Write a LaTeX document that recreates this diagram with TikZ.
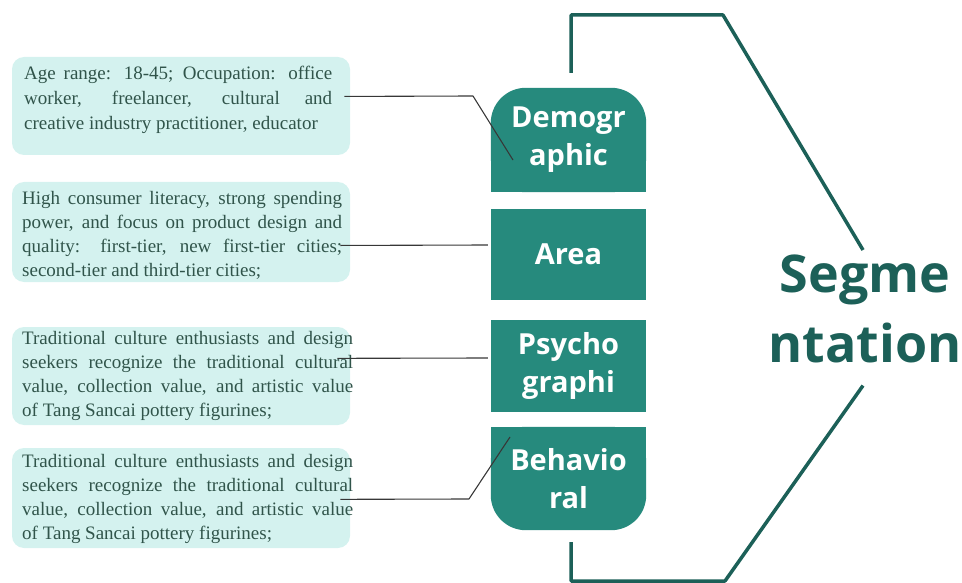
\documentclass[tikz,border=0pt]{standalone}
\usepackage{fontspec}
\setmainfont{Liberation Serif}
\newfontfamily\segfont{Open Sans}
\usetikzlibrary{backgrounds}
\definecolor{descfill}{RGB}{212,242,239}
\definecolor{desctext}{RGB}{48,84,74}
\definecolor{segteal}{RGB}{38,138,125}
\definecolor{segdark}{RGB}{28,96,88}
\definecolor{linkgray}{RGB}{55,55,55}
\begin{document}
\begin{tikzpicture}[x=1pt,y=-1pt,line join=round,
  desc/.style={inner sep=0pt,anchor=north west,align=justify,text=desctext,
    font=\fontsize{19}{24}\selectfont},
  segbox/.style={minimum width=155pt,inner sep=0pt,text=white,align=center,
    font=\segfont\bfseries\fontsize{29}{38}\selectfont},
  link/.style={linkgray,line width=1.1pt},
  frame/.style={segdark,line width=3.5pt}]
 \useasboundingbox (0,0) rectangle (962,583);
 \foreach \t/\b in {57/155,182/282,327/425,448/548}
   \fill[descfill,rounded corners=12pt] (12,\t) rectangle (350,\b);
 \node[desc,text width=308pt,font=\fontsize{19}{25}\selectfont] (agebox) at (24,66)
   {Age range: 18-45; Occupation: office\linebreak worker, freelancer, cultural and\linebreak creative industry practitioner, educator};
 \node[desc,text width=320pt] (citybox) at (22,191)
   {High consumer literacy, strong spending\linebreak power, and focus on product design and\linebreak quality: first-tier, new first-tier cities;\linebreak second-tier and third-tier cities;};
 \node[desc,text width=331pt] (tradbox) at (22,331)
   {Traditional culture enthusiasts and design\linebreak seekers recognize the traditional cultural\linebreak value, collection value, and artistic value\linebreak of Tang Sancai pottery figurines;};
 \node[desc,text width=331pt] (buybox) at (22,454)
   {Traditional culture enthusiasts and design\linebreak seekers recognize the traditional cultural\linebreak value, collection value, and artistic value\linebreak of Tang Sancai pottery figurines;};
 \node[segbox,minimum height=104pt] (demo) at (568.5,140) {Demogr\\aphic};
 \node[segbox,minimum height=91pt] (area) at (568.5,254.5) {Area};
 \node[segbox,minimum height=92pt] (psycho) at (568.5,366) {Psycho\\graphi};
 \node[segbox,minimum height=103pt] (behav) at (568.5,478.5) {Behavio\\ral};
 \begin{scope}[on background layer]
  \fill[segteal,rounded corners=35pt] (demo.south west) rectangle (demo.north east);
  \fill[segteal] (demo.south west) rectangle (demo.east);
  \fill[segteal] (area.south west) rectangle (area.north east);
  \fill[segteal] (psycho.south west) rectangle (psycho.north east);
  \fill[segteal,rounded corners=35pt] (behav.south west) rectangle (behav.north east);
  \fill[segteal] (behav.west) rectangle (behav.north east);
 \end{scope}
 \node[text=segdark,align=center,inner sep=0pt,anchor=north,
   font=\segfont\bfseries\fontsize{52}{70}\selectfont] (segm) at (865,255) {Segme\\ntation};
 \coordinate (tl) at (571,15); \coordinate (tr) at (723,15);
 \coordinate (bl) at (571,581); \coordinate (br) at (725,581);
 \draw[frame] ([shift={(2.5pt,15pt)}]demo.north) -- (tl) -- (tr) -- ([shift={(-2pt,5pt)}]segm.north);
 \draw[frame] ([shift={(2.5pt,-12pt)}]behav.south) -- (bl) -- (br) -- ([shift={(-2pt,-22pt)}]segm.south);
 \coordinate (k1) at (473,96); \coordinate (k4) at (469,499);
 \draw[link] ([shift={(12pt,3.5pt)}]agebox.east) -- (k1) -- ([shift={(-55.5pt,-20pt)}]demo.center);
 \draw[link] ([shift={(-2pt,-10.2pt)}]citybox.east) -- ([shift={(-3pt,9.5pt)}]area.west);
 \draw[link] ([shift={(-16pt,17.5pt)}]tradbox.east) -- ([shift={(-3pt,8pt)}]psycho.west);
 \draw[link] ([shift={(-13pt,-0.5pt)}]buybox.east) -- (k4) -- ([shift={(-58.5pt,41.5pt)}]behav.center);
\end{tikzpicture}
\end{document}
